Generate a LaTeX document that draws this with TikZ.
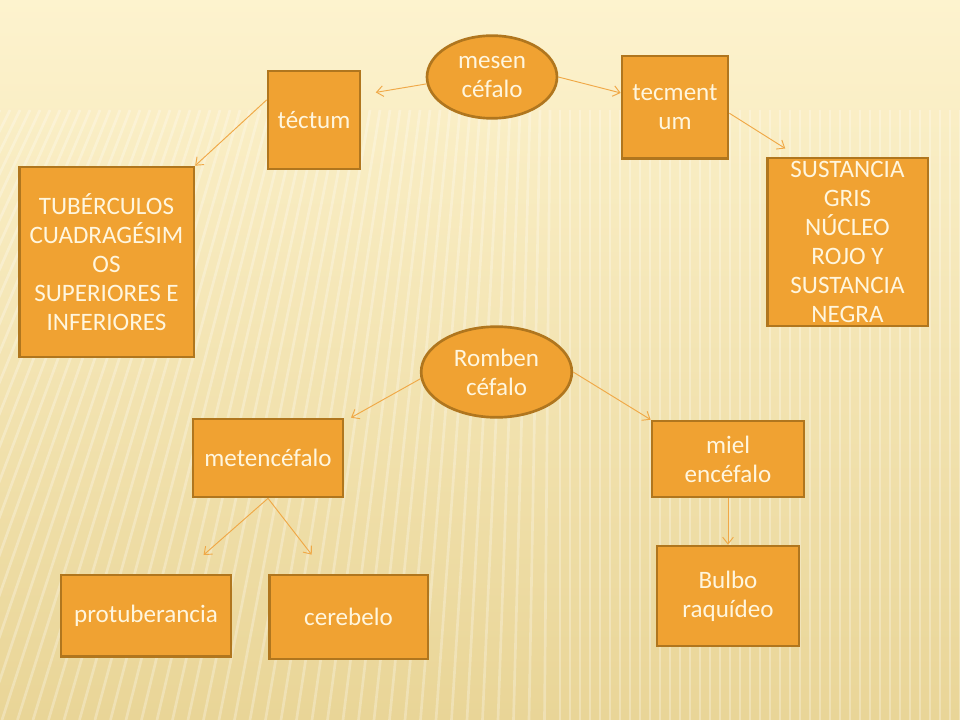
\documentclass[tikz,border=0pt]{standalone}
\usepackage{fontspec}
\setmainfont{Carlito}
\usetikzlibrary{arrows.meta,shapes.geometric}

\definecolor{boxfill}{HTML}{F0A232}
\definecolor{boxline}{HTML}{B0761E}
\definecolor{boxtext}{HTML}{FFF6DE}
\definecolor{linkcolor}{HTML}{F0A846}
\definecolor{bgtop}{HTML}{FDF3CE}
\definecolor{bgmid}{HTML}{F8E8B6}
\definecolor{bgbottom}{HTML}{E9D597}

\tikzset{
  concept/.style={draw=boxline, line width=2pt, fill=boxfill, text=boxtext,
    align=center, font=\fontsize{18.8}{21.75}\selectfont, inner sep=2pt},
  part/.style={concept, rectangle},
  region/.style={concept, ellipse},
  link/.style={draw=linkcolor, line width=0.7pt, -{Straight Barb[length=5pt,width=8pt]}},
  stripe/.style={draw=white, opacity=0.28, line width=2pt},
}

\begin{document}
\begin{tikzpicture}[x=0.75pt, y=-0.75pt]
  \useasboundingbox (0,0) rectangle (960,720);
  % background
  \fill[top color=bgtop, middle color=bgmid, bottom color=bgbottom] (0,0) rectangle (960,720);
  \begin{scope}
    \clip (0,110) rectangle (960,720);
    \foreach \sx in {0,10,...,1000} {
      \pgfmathsetmacro\lean{max(0,560-\sx)*0.55}
      \draw[stripe] (\sx,110) -- (\sx-\lean,720);
    }
  \end{scope}

  % mesencefalo
  \node[region, minimum width=97.5pt, minimum height=62pt] (mesen) at (492,77) {mesen\\céfalo};
  \node[part, minimum width=69pt, minimum height=73.5pt] (tectum) at (314,120) {téctum};
  \node[part, minimum width=79.5pt, minimum height=77pt] (tegmentum) at (675,107.5) {tecment\\um};
  \node[part, minimum width=120.5pt, minimum height=126pt, inner ysep=0pt] (sustancia) at (847.5,242)
    {SUSTANCIA\\GRIS\\NÚCLEO\\ROJO Y\\SUSTANCIA\\NEGRA};
  \node[part, minimum width=131pt, minimum height=142.5pt] (tuberculos) at (106.5,262)
    {TUBÉRCULOS\\CUADRAGÉSIM\\OS\\SUPERIORES E\\INFERIORES};

  % rombencefalo
  \node[region, minimum width=113pt, minimum height=68pt] (romben) at (496.5,372) {Romben\\céfalo};
  \node[part, minimum width=112.5pt, minimum height=58.5pt] (metencefalo) at (268,458) {metencéfalo};
  \node[part, minimum width=114pt, minimum height=57pt] (mielencefalo) at (728,459) {miel\\encéfalo};
  \node[part, minimum width=127.5pt, minimum height=61pt] (protuberancia) at (146,615.5) {protuberancia};
  \node[part, minimum width=119pt, minimum height=63pt] (cerebelo) at (348.5,617) {cerebelo};
  \node[part, minimum width=106.5pt, minimum height=75pt] (bulbo) at (728,596) {Bulbo\\raquídeo};

  \draw[link, shorten >=11pt] (mesen.186) -- (tectum.28);
  \draw[link] (mesen.east) -- (tegmentum.165);
  \draw[link] (tectum.157) -- (tuberculos.north east);
  \draw[link, shorten >=11.5pt] (tegmentum.-6) -- (sustancia.120);
  \draw[link] (romben.185) -- ([xshift=5pt]metencefalo.north east);
  \draw[link] (romben.east) -- (mielencefalo.north west);
  \draw[link, shorten >=21pt] (metencefalo.south) -- (protuberancia.49);
  \draw[link, shorten >=18pt] (metencefalo.south) -- (cerebelo.117);
  \draw[link] (mielencefalo.south) -- (bulbo.north);
\end{tikzpicture}
\end{document}
